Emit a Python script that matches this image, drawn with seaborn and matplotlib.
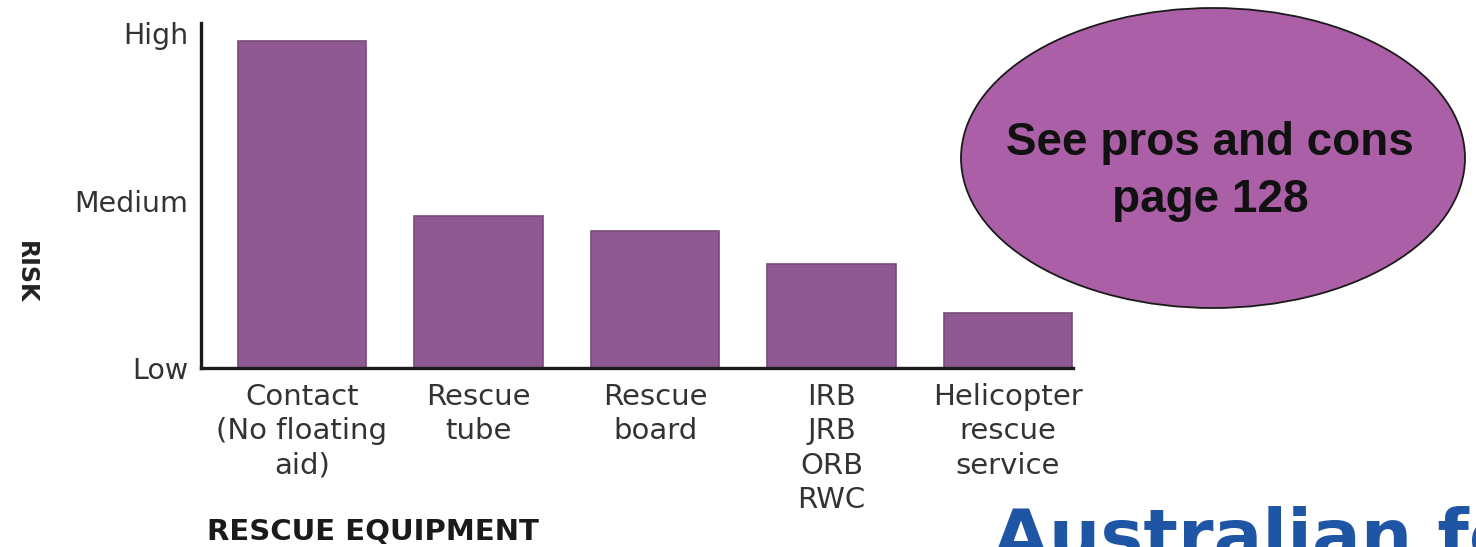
import matplotlib
matplotlib.use("Agg")
import matplotlib.pyplot as plt
from matplotlib.patches import Ellipse
import seaborn as sns
import pandas as pd

# ---- data ----
equipment = ["Contact\n(No floating\naid)", "Rescue\ntube", "Rescue\nboard",
             "IRB\nJRB\nORB\nRWC", "Helicopter\nrescue\nservice"]
risk = [1.95, 0.91, 0.82, 0.62, 0.33]
risk_ticks = [0, 1, 2]
risk_tick_labels = ["Low", "Medium", "High"]

sns.set_theme(style="white")
plt.rcParams["font.family"] = ["DejaVu Sans"]

W, H = 1476, 547
fig = plt.figure(figsize=(W / 100, H / 100), dpi=100)
fig.patch.set_facecolor("white")

ax = fig.add_axes([201 / W, (H - 368) / H, (1073 - 201) / W, (368 - 23) / H])
df = pd.DataFrame({"equipment": equipment, "risk": risk})
sns.barplot(data=df, x="equipment", y="risk", color="#8f5993", saturation=1,
            width=0.73, edgecolor="#7a4a7c", linewidth=1.2, ax=ax)

ax.set_xlim(-0.572, 4.368)
ax.set_ylim(0, 2.06)
ax.set_yticks(risk_ticks)
ax.set_yticklabels(risk_tick_labels)
ax.set_xlabel("")
ax.set_ylabel("")
ax.set_facecolor("white")
for s in ["top", "right"]:
    ax.spines[s].set_visible(False)
for s in ["left", "bottom"]:
    ax.spines[s].set_color("#1a1a1a")
    ax.spines[s].set_linewidth(2.4)
ax.tick_params(axis="x", length=0, pad=11, labelsize=21, labelcolor="#333333")
ax.tick_params(axis="y", length=0, pad=9, labelsize=20.5, labelcolor="#333333")
for t in ax.get_xticklabels():
    t.set_linespacing(1.28)

fig.text(26 / W, 1 - 272 / H, "RISK", rotation=270, ha="center", va="center",
         fontsize=17, fontweight="bold", color="#222222")
fig.text(207 / W, 1 - 532 / H, "RESCUE EQUIPMENT", ha="left", va="center",
         fontsize=21, fontweight="bold", color="#1a1a1a")

# callout ellipse
ell = Ellipse((1213 / W, 1 - 158 / H), 504 / W, 300 / H, transform=fig.transFigure,
              facecolor="#ab5fa6", edgecolor="#1a1a1a", linewidth=1.3)
fig.add_artist(ell)
fig.text(1210 / W, 1 - 143 / H, "See pros and cons", ha="center", va="center",
         fontsize=33, fontweight="bold", family=["Liberation Sans"], color="#111111")
fig.text(1210 / W, 1 - 200 / H, "page 128", ha="center", va="center",
         fontsize=33, fontweight="bold", family=["Liberation Sans"], color="#111111")

fig.text(993 / W, 1 - 560 / H, "Australian for", ha="left", va="baseline",
         fontsize=52, fontweight="bold", color="#1e55a5")

fig.savefig("out.png", dpi=100)
